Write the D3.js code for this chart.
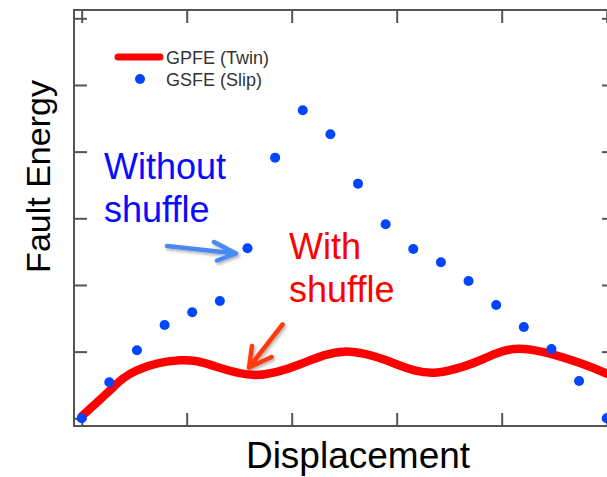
<!DOCTYPE html>
<html>
<head>
<meta charset="utf-8">
<script src="https://cdn.jsdelivr.net/npm/d3@7"></script>
<style>
  html, body { margin: 0; padding: 0; background: #fff; overflow: hidden; }
  svg { display: block; font-family: "Liberation Sans", Arial, Helvetica, sans-serif; }
</style>
</head>
<body>
<svg id="chart" width="607" height="477"></svg>
<script>
// GSFE (slip) energies, evenly spaced along the displacement path
const gsfeY = [0.0, 0.54, 1.02, 1.40, 1.59, 1.76, 2.55, 3.91, 4.62, 4.26,
               3.52, 2.91, 2.54, 2.34, 2.06, 1.70, 1.37, 1.04, 0.56, 0.0];
const gsfeX = gsfeY.map((_, i) => i / (gsfeY.length - 1));

// GPFE (twin) energy profile, sampled along the displacement
const gpfeX = [0.0, 0.054, 0.105, 0.187, 0.250, 0.330, 0.416, 0.500, 0.590,
               0.672, 0.765, 0.843, 0.949, 1.0];
const gpfeY = [0.03, 0.42, 0.72, 0.87, 0.79, 0.65, 0.81, 1.00, 0.84,
               0.685, 0.89, 1.04, 0.83, 0.67];

const xTicks = [0, 0.2, 0.4, 0.6, 0.8, 1.0];
const yTicks = [0, 1, 2, 3, 4, 5, 6];

const legendLabels = ["GPFE (Twin)", "GSFE (Slip)"];
const axisTitles = { x: "Displacement", y: "Fault Energy" };

const svg = d3.select("#chart");

const frame = { left: 74, right: 615, top: 10, bottom: 426 };
const x = d3.scaleLinear().domain([0, 1]).range([81.7, 606.7]);
const y = d3.scaleLinear().domain([0, 6]).range([418.3, 18.3]);

const defs = svg.append("defs");
const shadow = defs.append("filter").attr("id", "shadow")
  .attr("x", "-30%").attr("y", "-30%").attr("width", "160%").attr("height", "160%");
shadow.append("feDropShadow").attr("dx", 1.5).attr("dy", 2)
  .attr("stdDeviation", 1.5).attr("flood-color", "#000").attr("flood-opacity", 0.3);

const clip = defs.append("clipPath").attr("id", "plotClip");
clip.append("rect").attr("x", frame.left).attr("y", frame.top)
  .attr("width", frame.right - frame.left).attr("height", frame.bottom - frame.top);

// Ticks on all four sides, pointing inward
const tickColor = "#555";
function styleAxis(g) {
  g.select(".domain").remove();
  g.selectAll(".tick line").attr("stroke", tickColor).attr("stroke-width", 2);
  g.selectAll(".tick text").remove();
}
svg.append("g").attr("transform", `translate(0,${frame.bottom})`)
  .call(d3.axisBottom(x).tickValues(xTicks).tickSizeInner(-13).tickSizeOuter(0)).call(styleAxis);
svg.append("g").attr("transform", `translate(0,${frame.top})`)
  .call(d3.axisTop(x).tickValues(xTicks).tickSizeInner(-13).tickSizeOuter(0)).call(styleAxis);
svg.append("g").attr("transform", `translate(${frame.left},0)`)
  .call(d3.axisLeft(y).tickValues(yTicks).tickSizeInner(-13).tickSizeOuter(0)).call(styleAxis);
svg.append("g").attr("transform", `translate(${frame.right},0)`)
  .call(d3.axisRight(y).tickValues(yTicks).tickSizeInner(-13).tickSizeOuter(0)).call(styleAxis);

svg.append("rect")
  .attr("x", frame.left).attr("y", frame.top)
  .attr("width", frame.right - frame.left).attr("height", frame.bottom - frame.top)
  .attr("fill", "none").attr("stroke", tickColor).attr("stroke-width", 2);

const plot = svg.append("g").attr("clip-path", "url(#plotClip)");

// GPFE curve
const gpfe = gpfeX.map((d, i) => [d, gpfeY[i]]);
plot.append("path")
  .datum(gpfe)
  .attr("fill", "none")
  .attr("stroke", "#ff0000")
  .attr("stroke-width", 8.5)
  .attr("stroke-linecap", "round")
  .attr("d", d3.line().x(d => x(d[0])).y(d => y(d[1])).curve(d3.curveNatural));

// GSFE points
const gsfe = gsfeX.map((d, i) => [d, gsfeY[i]]);
svg.append("g").selectAll("circle")
  .data(gsfe)
  .join("circle")
  .attr("cx", d => x(d[0]))
  .attr("cy", d => y(d[1]))
  .attr("r", 5)
  .attr("fill", "#0046ff");

// Legend
const legend = svg.append("g");
legend.append("line")
  .attr("x1", 118).attr("x2", 160).attr("y1", 57).attr("y2", 57)
  .attr("stroke", "#ff0000").attr("stroke-width", 7).attr("stroke-linecap", "round");
legend.append("circle").attr("cx", 140).attr("cy", 79).attr("r", 5).attr("fill", "#0046ff");
legend.selectAll("text")
  .data(legendLabels)
  .join("text")
  .attr("x", 166)
  .attr("y", (d, i) => 63.5 + i * 22)
  .attr("font-size", 18)
  .attr("fill", "#333")
  .text(d => d);

// Axis titles
svg.append("text")
  .attr("x", 358).attr("y", 468)
  .attr("text-anchor", "middle")
  .attr("font-size", 37)
  .attr("fill", "#000")
  .text(axisTitles.x);
svg.append("text")
  .attr("transform", "translate(50,176.5) rotate(-90)")
  .attr("text-anchor", "middle")
  .attr("font-size", 34)
  .attr("fill", "#000")
  .text(axisTitles.y);

// Annotations
const noteBlue = svg.append("text").attr("font-size", 36).attr("fill", "#0a0aff");
noteBlue.append("tspan").attr("x", 104).attr("y", 178.5).text("Without");
noteBlue.append("tspan").attr("x", 104).attr("y", 221.5).text("shuffle");

const noteRed = svg.append("text").attr("font-size", 36).attr("fill", "#ff0000");
noteRed.append("tspan").attr("x", 289).attr("y", 258.5).text("With");
noteRed.append("tspan").attr("x", 289).attr("y", 301.5).text("shuffle");

// Pointer arrows
function arrow(from, tip, w1, w2, color) {
  svg.append("path")
    .attr("d", `M${from[0]},${from[1]}L${tip[0]},${tip[1]}M${w1[0]},${w1[1]}L${tip[0]},${tip[1]}L${w2[0]},${w2[1]}`)
    .attr("fill", "none")
    .attr("stroke", color)
    .attr("stroke-width", 4.5)
    .attr("stroke-linecap", "round")
    .attr("stroke-linejoin", "round")
    .attr("filter", "url(#shadow)");
}
arrow([167, 246], [236, 253.5], [214, 242], [217, 260.5], "#4a8af0");
arrow([282.5, 324.5], [249, 367.5], [252, 346], [271.5, 357], "#ff3a10");
</script>
</body>
</html>
